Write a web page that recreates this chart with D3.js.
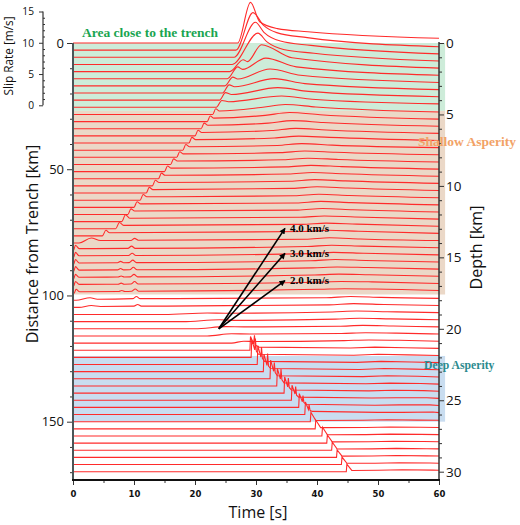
<!DOCTYPE html>
<html><head><meta charset="utf-8">
<script src="https://cdn.jsdelivr.net/npm/d3@7"></script>
<style>body{margin:0;background:#fff} svg{display:block}</style>
</head><body>
<svg id="chart" width="520" height="525"></svg>
<script>
// ---------------- DATA ----------------
const depthKm = [0,0.5,1,1.5,2,2.5,3,3.5,4,4.5,5,5.5,6,6.5,7,7.5,8,8.5,9,9.5,10,10.5,11,11.5,12,12.5,13,13.5,14,14.5,15,15.5,16,16.5,17,17.5,18,18.5,19,19.5,20,20.5,21,21.5,22,22.5,23,23.5,24,24.5,25,25.5,26,26.5,27,27.5,28,28.5,29,29.5,30];
// rupture arrival time [s]
const arrive = [27.0,26.7,26.4,26.1,25.7,25.3,24.9,24.5,24.0,23.5,
 22.9,22.0,21.0,20.0,19.0,18.0,17.0,16.0,15.0,14.0,
 13.0,12.0,11.0,10.0,9.0,8.0,7.0,4.8,1.0,0.1,
 0.1,0.1,0.1,0.1,0.1,0.2,0.5,1.0,15.0,18.0,
 20.0,22.0,26.0,29.0,29.2,30.2,31.2,32.3,33.4,34.6,
 35.8,37.0,38.0,38.9,39.7,40.8,41.6,42.4,43.2,44.0,44.8];
// first peak time / slip rate
const p1T = [29.1,29.5,29.9,30.3,27.9,27.0,26.2,25.6,25.0,24.4,
 23.4,22.5,21.5,20.5,19.5,18.5,17.5,16.5,15.5,14.5,
 13.5,12.5,11.5,10.5,9.5,8.6,7.6,5.4,3.0,0.4,
 0.4,0.4,0.4,0.4,0.4,0.5,2.8,3.0,22.0,24.0,
 25.0,26.0,28.0,29.1,29.3,30.3,31.3,32.4,33.5,34.7,
 35.9,37.1,38.1,39.0,39.8,40.9,41.7,42.5,43.3,44.1,44.9];
const p1V = [6.5,6.0,5.6,5.0,1.9,1.9,1.4,1.3,1.2,1.1,
 0.9,0.9,0.9,0.9,0.9,0.9,0.9,0.9,0.9,0.9,
 0.9,0.9,0.9,0.9,0.9,1.1,1.0,0.9,0.8,0.8,
 0.8,0.8,0.8,0.7,0.7,0.6,0.4,0.3,0.25,0.3,
 0.35,0.35,0.3,2.2,2.8,3.0,2.8,3.0,2.8,2.6,
 2.4,2.2,2.0,1.5,1.4,1.4,1.3,1.3,1.2,1.2,1.2];
// drop after first peak
const dipT = [30.6,31.2,31.3,31.8,28.6,27.8,27.0,26.5,26.0,25.5,
 24.0,23.1,22.1,21.1,20.1,19.1,18.1,17.1,16.1,15.1,
 14.1,13.1,12.1,11.1,10.1,9.3,8.3,6.0,4.5,1.0,
 1.0,1.0,1.0,1.0,1.0,1.1,4.0,4.5,25.0,27.0,
 28.0,29.0,30.0,30.5,30.4,31.4,32.4,33.5,34.6,35.8,
 37.0,38.2,39.2,39.8,40.6,41.7,42.5,43.3,44.1,44.9,45.7];
const dipV = [3.4,4.0,4.0,3.6,1.6,1.5,1.1,1.0,0.9,0.9,
 0.55,0.55,0.55,0.55,0.55,0.55,0.55,0.55,0.55,0.55,
 0.55,0.55,0.55,0.55,0.55,0.55,0.55,0.5,0.4,0.25,
 0.25,0.25,0.25,0.25,0.25,0.2,0.15,0.15,0.2,0.2,
 0.3,0.3,0.25,0.5,0.5,0.5,0.5,0.5,0.5,0.5,
 0.5,0.5,0.5,0.2,0.2,0.2,0.2,0.2,0.2,0.2,0.2];
// later broad hump
const humpT = [33.5,33.4,34.0,34.5,30.9,31.6,32.3,33.0,33.6,34.2,
 34.8,35.5,36.0,36.5,37.0,37.5,38.0,38.5,39.0,39.3,
 39.6,40.0,40.3,40.6,40.9,41.2,41.5,41.8,42.1,42.4,
 42.7,43.0,43.3,43.6,44.0,44.5,45.5,46.0,46.5,47.0,
 47.5,48.0,48.5,49.5,50.0,50.5,51.0,51.5,52.0,52.5,
 53.0,53.5,54.0,51.5,52.0,52.0,52.5,53.0,53.0,53.5,54.0];
const humpV = [2.3,2.8,2.6,2.4,4.3,3.3,2.7,2.3,2.0,1.8,
 1.6,1.45,1.3,1.2,1.1,1.05,1.0,1.0,1.0,1.0,
 1.0,1.0,0.95,0.95,0.95,0.9,0.9,0.9,0.85,0.8,
 0.8,0.8,0.75,0.75,0.7,0.7,0.6,0.6,0.55,0.55,
 0.55,0.5,0.5,0.5,0.5,0.5,0.5,0.5,0.45,0.45,
 0.4,0.4,0.35,0.3,0.3,0.3,0.3,0.3,0.3,0.3,0.3];
const preV = [null,null,null,null,null,null,null,null,null,null,
 1.1,1.0,0.9,0.85,0.8,0.75,0.75,0.75,0.75,0.75,
 0.75,0.75,0.7,0.7,0.7,0.7,0.7,0.7,0.6,0.6,
 0.6,0.6,0.6,0.6,0.6,0.6,0.4,0.4,0.4,0.4,
 0.4,0.4,0.4,0.35,0.35,0.35,0.35,0.35,0.35,0.35,
 0.35,0.35,0.35,0.22,0.22,0.22,0.22,0.22,0.22,0.22,0.22];
const postV = [1.8,2.0,1.9,1.8,2.2,1.9,1.7,1.5,1.4,1.3,
 1.2,1.1,1.0,0.95,0.9,0.8,0.8,0.8,0.8,0.8,
 0.8,0.8,0.75,0.75,0.75,0.75,0.75,0.75,0.65,0.65,
 0.65,0.65,0.65,0.65,0.65,0.65,0.45,0.45,0.45,0.45,
 0.45,0.45,0.45,0.4,0.4,0.4,0.4,0.4,0.4,0.4,
 0.4,0.4,0.4,0.25,0.25,0.25,0.25,0.25,0.25,0.25,0.25];
const endV = [0.75,0.55,0.55,0.55,0.55,0.55,0.55,0.55,0.55,0.55,
 0.4,0.4,0.4,0.4,0.4,0.4,0.4,0.4,0.4,0.4,
 0.4,0.4,0.4,0.4,0.4,0.4,0.4,0.4,0.4,0.4,
 0.4,0.4,0.4,0.4,0.4,0.4,0.3,0.3,0.3,0.3,
 0.3,0.3,0.3,0.3,0.3,0.3,0.3,0.3,0.3,0.3,
 0.3,0.3,0.3,0.22,0.22,0.22,0.22,0.22,0.22,0.22,0.22];
// extra wiggles / spikes [trace, time, slip rate]
const wiggles = [
 [28,9.5,0.4],[28,10.1,0.75],[28,10.7,0.45],
 [29,9.0,0.3],[29,9.6,0.65],[29,10.2,0.3],
 [30,9.1,0.3],[30,9.7,0.65],[30,10.3,0.3],
 [31,7.3,0.28],[31,7.8,0.5],[31,8.3,0.28],[31,9.2,0.3],[31,9.8,0.7],[31,10.4,0.3],
 [32,7.3,0.28],[32,7.8,0.5],[32,8.3,0.28],[32,9.3,0.3],[32,9.9,0.7],[32,10.5,0.3],
 [33,7.4,0.28],[33,7.9,0.45],[33,8.4,0.28],[33,9.4,0.3],[33,10.0,0.7],[33,10.6,0.3],
 [34,7.4,0.28],[34,7.9,0.45],[34,8.4,0.28],[34,9.5,0.3],[34,10.1,0.7],[34,10.7,0.3],
 [35,7.5,0.25],[35,8.0,0.4],[35,8.5,0.25],[35,9.6,0.3],[35,10.2,0.65],[35,10.8,0.3],
 [36,9.8,0.25],[36,10.4,0.6],[36,11.0,0.25],
 [37,10.0,0.2],[37,10.6,0.45],[37,11.2,0.2],
 [43,29.6,1.0],[43,29.75,2.4],[43,29.9,0.8],
 [44,29.8,1.2],[44,29.9,3.0],[44,30.05,1.0],
 [45,30.8,1.2],[45,30.9,2.8],[45,31.05,1.0],
 [46,31.8,1.0],[46,31.9,2.9],[46,32.05,0.9],
 [47,32.9,1.2],[47,33.0,2.6],[47,33.15,1.0],
 [48,34.0,1.1],[48,34.1,2.7],[48,34.25,1.0],
 [49,35.2,1.0],[49,35.3,2.4],[49,35.45,0.9],
 [50,36.4,1.0],[50,36.5,2.2],[50,36.65,0.8],
 [51,37.6,0.9],[51,37.7,1.9],[51,37.85,0.8],
 [52,38.6,0.8],[52,38.7,1.6],[52,38.85,0.7]
];
// shaded zones (depth km)
const zoneFrom = [0, 4.75, 21.9];
const zoneTo = [4.75, 17.6, 26.5];
const zoneNames = ["Area close to the trench", "Shallow Asperity", "Deep Asperity"];
// rupture-speed arrows: origin and tips (time s, depth km)
const arrowOrigin = [23.9, 20.0];
const arrowTips = [[34.75, 12.97], [34.75, 14.72], [34.75, 16.63]];
const speedLabels = ["4.0 km/s", "3.0 km/s", "2.0 km/s"];
// ticks
const timeTicks = [0,10,20,30,40,50,60];
const timeMinor = [5,15,25,35,45,55];
const distTicks = [0,50,100,150];
const distMinor = [10,20,30,40,60,70,80,90,110,120,130,140,160,170];
const depthTicks = [0,5,10,15,20,25,30];
const depthMinor = [1,2,3,4,6,7,8,9,11,12,13,14,16,17,18,19,21,22,23,24,26,27,28,29];
const slipTicks = [0,5,10,15];
const slipMinor = [1,2,3,4,6,7,8,9,11,12,13,14];

// ---------------- LAYOUT / STYLE ----------------
const svg = d3.select('#chart');
const plotLeft = 73, plotRight = 439, plotTop = 43, plotBottom = 480;
const x = d3.scaleLinear().domain([0, 60]).range([plotLeft, plotRight]);
const yDepth = d3.scaleLinear().domain([0, 30]).range([plotTop, 471.7]);
const yDist = d3.scaleLinear().domain([0, 150]).range([plotTop, 421.7]);
const ySlip = d3.scaleLinear().domain([0, 15]).range([105.3, 11.5]);
const zoneColors = ['#cdecd9', '#ebd8c7', '#c9ddf0'];
const zoneTextColors = ['#1aa550', '#f2a266', '#2b8a8e'];
const traceColor = '#ff2b2b';
const titleFont = '"Open Sans", sans-serif';
const serif = '"Liberation Serif", "Times New Roman", serif';

// zones
svg.append('g').selectAll('rect').data(zoneFrom).join('rect')
  .attr('x', x(0)).attr('width', x(61) - x(0))
  .attr('y', d => yDepth(d))
  .attr('height', (d, i) => yDepth(zoneTo[i]) - yDepth(d))
  .attr('fill', (d, i) => zoneColors[i]);

// traces
function tracePoints(i) {
  const pts = [[0, 0], [arrive[i], 0], [p1T[i], p1V[i]], [dipT[i], dipV[i]], [humpT[i], humpV[i]]];
  if (preV[i] !== null) pts.push([humpT[i] - 4, preV[i]]);
  pts.push([humpT[i] + 5, postV[i]]);
  pts.push([60, endV[i]]);
  wiggles.filter(w => w[0] === i).forEach(w => pts.push([w[1], w[2]]));
  pts.sort((a, b) => a[0] - b[0]);
  return pts;
}
const slipPx = v => ySlip(0) - ySlip(v);
const gTr = svg.append('g').attr('fill', 'none').attr('stroke', traceColor).attr('stroke-width', 1.1);
depthKm.forEach((d, i) => {
  const base = yDepth(d);
  const line = d3.line()
    .x(p => x(p[0]))
    .y(p => base - slipPx(p[1]))
    .curve(i >= 43 ? d3.curveLinear : d3.curveMonotoneX);
  gTr.append('path').attr('d', line(tracePoints(i)));
});

// axes
function styleAxis(g, fontSize, fontFamily, weight) {
  g.select('.domain').remove();
  g.selectAll('.tick line').attr('stroke', '#333').attr('stroke-width', 1);
  g.selectAll('.tick text').attr('font-size', fontSize).attr('font-family', fontFamily)
    .attr('font-weight', weight || 'normal').attr('fill', '#111');
}
// left distance axis
svg.append('g').attr('transform', `translate(${plotLeft},0)`)
  .call(d3.axisLeft(yDist).tickValues(distMinor).tickSize(3).tickFormat(''))
  .call(g => styleAxis(g, 13, titleFont));
svg.append('g').attr('transform', `translate(${plotLeft},0)`)
  .call(d3.axisLeft(yDist).tickValues(distTicks).tickSize(6).tickPadding(3))
  .call(g => styleAxis(g, 13, titleFont));
svg.append('line').attr('x1', plotLeft).attr('x2', plotLeft).attr('y1', plotTop).attr('y2', plotBottom)
  .attr('stroke', '#4a5658').attr('stroke-width', 2);
// right depth axis
svg.append('g').attr('transform', `translate(${plotRight},0)`)
  .call(d3.axisRight(yDepth).tickValues(depthMinor).tickSize(3).tickFormat(''))
  .call(g => styleAxis(g, 13.5, titleFont));
svg.append('g').attr('transform', `translate(${plotRight},0)`)
  .call(d3.axisRight(yDepth).tickValues(depthTicks).tickSize(5).tickPadding(2))
  .call(g => styleAxis(g, 13.5, titleFont));
svg.append('line').attr('x1', plotRight).attr('x2', plotRight).attr('y1', plotTop - 1).attr('y2', plotBottom)
  .attr('stroke', '#333').attr('stroke-width', 1.5);
// bottom time axis
svg.append('g').attr('transform', `translate(0,${plotBottom})`)
  .call(d3.axisBottom(x).tickValues(timeMinor).tickSize(3).tickFormat(''))
  .call(g => styleAxis(g, 8.5, '"DejaVu Sans", sans-serif', 'bold'));
svg.append('g').attr('transform', `translate(0,${plotBottom})`)
  .call(d3.axisBottom(x).tickValues(timeTicks).tickSize(5).tickPadding(6))
  .call(g => styleAxis(g, 8.5, '"DejaVu Sans", sans-serif', 'bold'));
svg.append('line').attr('x1', plotLeft - 1).attr('x2', plotRight + 1).attr('y1', plotBottom).attr('y2', plotBottom)
  .attr('stroke', '#111').attr('stroke-width', 2);
// slip-rate scale axis
const slipX = 43;
svg.append('g').attr('transform', `translate(${slipX},0)`)
  .call(d3.axisRight(ySlip).tickValues(slipMinor).tickSize(2).tickFormat(''))
  .call(g => styleAxis(g, 10.2, titleFont));
svg.append('g').attr('transform', `translate(${slipX},0)`)
  .call(d3.axisLeft(ySlip).tickValues(slipTicks).tickSize(4).tickPadding(5))
  .call(g => styleAxis(g, 10.2, titleFont));
svg.append('line').attr('x1', slipX).attr('x2', slipX).attr('y1', ySlip(15)).attr('y2', ySlip(0))
  .attr('stroke', '#333').attr('stroke-width', 1.2);

// axis titles
svg.append('text').attr('transform', 'translate(37.5,244) rotate(-90)')
  .attr('text-anchor', 'middle').attr('font-family', titleFont).attr('font-size', 16).attr('fill', '#111')
  .text('Distance from Trench [km]');
svg.append('text').attr('transform', 'translate(482,247.5) rotate(-90)')
  .attr('text-anchor', 'middle').attr('font-family', titleFont).attr('font-size', 16).attr('fill', '#111')
  .text('Depth [km]');
svg.append('text').attr('x', 258).attr('y', 518)
  .attr('text-anchor', 'middle').attr('font-family', titleFont).attr('font-size', 16).attr('fill', '#111')
  .text('Time [s]');
svg.append('text').attr('transform', 'translate(13,56) rotate(-90)')
  .attr('text-anchor', 'middle').attr('font-family', titleFont).attr('font-size', 11.8).attr('fill', '#111')
  .text('Slip Rate [m/s]');

// zone labels
const zoneLabelPos = [[82, 37.3, 13.5], [418, 146, 13.5], [424, 369, 11.7]];
zoneNames.forEach((n, i) => {
  svg.append('text').attr('x', zoneLabelPos[i][0]).attr('y', zoneLabelPos[i][1])
    .attr('font-family', serif).attr('font-weight', 'bold').attr('font-size', zoneLabelPos[i][2])
    .attr('fill', zoneTextColors[i]).text(n);
});

// arrows
const defs = svg.append('defs');
defs.append('marker').attr('id', 'ah').attr('viewBox', '0 0 10 10').attr('refX', 9).attr('refY', 5)
  .attr('markerWidth', 7).attr('markerHeight', 6).attr('markerUnits', 'userSpaceOnUse').attr('orient', 'auto')
  .append('path').attr('d', 'M0,0 L10,5 L0,10 z').attr('fill', '#000');
arrowTips.forEach((tp, i) => {
  svg.append('line')
    .attr('x1', x(arrowOrigin[0])).attr('y1', yDepth(arrowOrigin[1]))
    .attr('x2', x(tp[0])).attr('y2', yDepth(tp[1]))
    .attr('stroke', '#000').attr('stroke-width', 1.6).attr('marker-end', 'url(#ah)');
  svg.append('text').attr('x', x(tp[0]) + 5).attr('y', yDepth(tp[1]) + 3.5)
    .attr('font-family', serif).attr('font-weight', 'bold').attr('font-size', 11).attr('fill', '#000')
    .text(speedLabels[i]);
});
</script>
</body></html>
